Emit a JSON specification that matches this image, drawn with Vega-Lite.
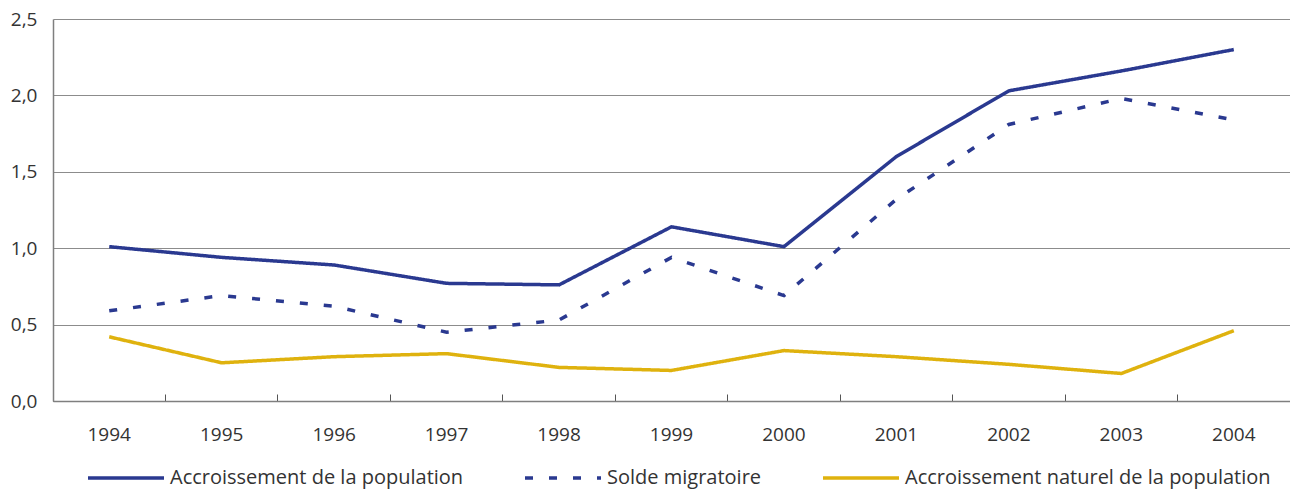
{
  "$schema": "https://vega.github.io/schema/vega-lite/v6.json",
  "width": 1237,
  "height": 382,
  "autosize": {"type": "none"},
  "padding": {"left": 53, "top": 19, "right": 0, "bottom": 92},
  "background": "white",
  "config": {
    "font": "Open Sans",
    "view": {"stroke": null},
    "axis": {"labelFont": "Open Sans", "labelFontSize": 19, "labelColor": "#333333", "domainColor": "#7f7f7f", "gridColor": "#8c8c8c", "tickColor": "#555555"}
  },
  "data": {
    "values": [
      {"year": "1994", "series": "Accroissement de la population", "value": 1.01},
      {"year": "1995", "series": "Accroissement de la population", "value": 0.94},
      {"year": "1996", "series": "Accroissement de la population", "value": 0.89},
      {"year": "1997", "series": "Accroissement de la population", "value": 0.77},
      {"year": "1998", "series": "Accroissement de la population", "value": 0.76},
      {"year": "1999", "series": "Accroissement de la population", "value": 1.14},
      {"year": "2000", "series": "Accroissement de la population", "value": 1.01},
      {"year": "2001", "series": "Accroissement de la population", "value": 1.60},
      {"year": "2002", "series": "Accroissement de la population", "value": 2.03},
      {"year": "2003", "series": "Accroissement de la population", "value": 2.16},
      {"year": "2004", "series": "Accroissement de la population", "value": 2.30},
      {"year": "1994", "series": "Solde migratoire", "value": 0.59},
      {"year": "1995", "series": "Solde migratoire", "value": 0.69},
      {"year": "1996", "series": "Solde migratoire", "value": 0.62},
      {"year": "1997", "series": "Solde migratoire", "value": 0.45},
      {"year": "1998", "series": "Solde migratoire", "value": 0.53},
      {"year": "1999", "series": "Solde migratoire", "value": 0.94},
      {"year": "2000", "series": "Solde migratoire", "value": 0.69},
      {"year": "2001", "series": "Solde migratoire", "value": 1.32},
      {"year": "2002", "series": "Solde migratoire", "value": 1.81},
      {"year": "2003", "series": "Solde migratoire", "value": 1.98},
      {"year": "2004", "series": "Solde migratoire", "value": 1.84},
      {"year": "1994", "series": "Accroissement naturel de la population", "value": 0.42},
      {"year": "1995", "series": "Accroissement naturel de la population", "value": 0.25},
      {"year": "1996", "series": "Accroissement naturel de la population", "value": 0.29},
      {"year": "1997", "series": "Accroissement naturel de la population", "value": 0.31},
      {"year": "1998", "series": "Accroissement naturel de la population", "value": 0.22},
      {"year": "1999", "series": "Accroissement naturel de la population", "value": 0.20},
      {"year": "2000", "series": "Accroissement naturel de la population", "value": 0.33},
      {"year": "2001", "series": "Accroissement naturel de la population", "value": 0.29},
      {"year": "2002", "series": "Accroissement naturel de la population", "value": 0.24},
      {"year": "2003", "series": "Accroissement naturel de la population", "value": 0.18},
      {"year": "2004", "series": "Accroissement naturel de la population", "value": 0.46}
    ]
  },
  "mark": {"type": "line", "strokeWidth": 3.5},
  "encoding": {
    "x": {
      "field": "year", "type": "ordinal",
      "scale": {"type": "band", "paddingInner": 0, "paddingOuter": 0},
      "axis": {"title": null, "labelAngle": 0, "grid": false, "bandPosition": 0, "tickSize": -7, "labelPadding": 31, "labelAlign": "center", "labelFontSize": 19, "domainWidth": 1.5}
    },
    "y": {
      "field": "value", "type": "quantitative",
      "scale": {"domain": [0, 2.5], "nice": false},
      "axis": {"title": null, "values": [0, 0.5, 1, 1.5, 2, 2.5], "ticks": false, "labelPadding": 16, "labelFontSize": 19, "labelExpr": "replace(format(datum.value, '.1f'), '.', ',')", "domainWidth": 1.5, "gridWidth": 1}
    },
    "color": {
      "field": "series", "type": "nominal",
      "scale": {"domain": ["Accroissement de la population", "Solde migratoire", "Accroissement naturel de la population"], "range": ["#2a3990", "#2a3990", "#dfb20e"]},
      "legend": {"title": null, "orient": "none", "legendX": 33, "legendY": 419, "direction": "horizontal", "symbolType": "stroke", "symbolSize": 5776, "symbolStrokeWidth": 3.5, "labelFontSize": 20, "labelColor": "#333333", "labelOffset": 4, "columnPadding": 54, "labelLimit": 500}
    },
    "strokeDash": {
      "field": "series", "type": "nominal",
      "scale": {"domain": ["Accroissement de la population", "Solde migratoire", "Accroissement naturel de la population"], "range": [[1, 0], [8, 16], [1, 0]]},
      "legend": {"title": null, "orient": "none", "legendX": 33, "legendY": 419, "direction": "horizontal", "symbolType": "stroke", "symbolSize": 5776, "symbolStrokeWidth": 3.5, "labelFontSize": 20, "labelColor": "#333333", "labelOffset": 4, "columnPadding": 54, "labelLimit": 500}
    }
  }
}
